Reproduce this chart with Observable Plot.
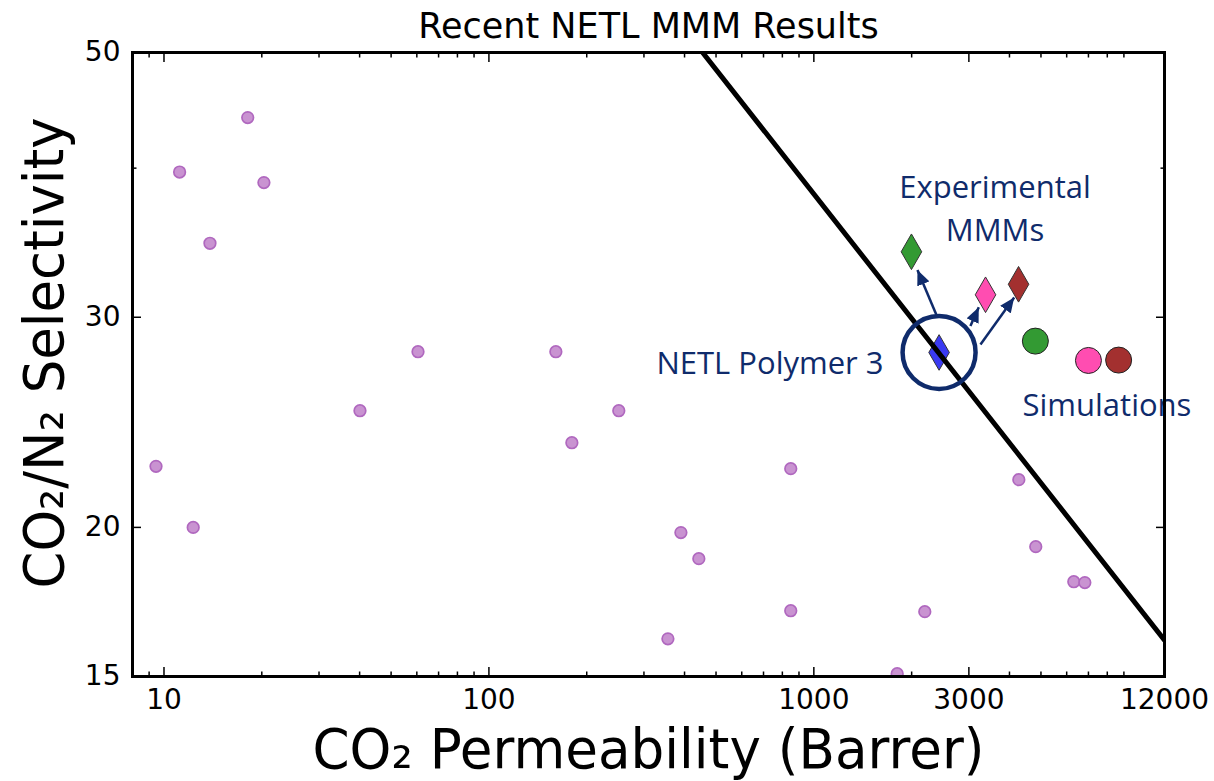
<!DOCTYPE html>
<html>
<head>
<meta charset="utf-8">
<script src="https://cdn.jsdelivr.net/npm/d3@7"></script>
<script src="https://cdn.jsdelivr.net/npm/@observablehq/plot@0.6"></script>
<style>
  body { margin: 0; background: #fff; }
  svg { display: block; }
</style>
</head>
<body>
<div id="chart"></div>
<script>
// Literature polymers: CO2 permeability (Barrer) and CO2/N2 selectivity
const polymerPerm = [9.45, 11.17, 12.3, 13.85, 18.1, 20.3, 40.1, 60.5, 160.7, 180, 251, 355.5, 389.8, 442.6, 849, 849, 1805, 2195, 4274, 4819, 6310, 6823];
const polymerSel  = [22.5, 39.7, 20.0, 34.6, 44.1, 38.9, 25.05, 28.07, 28.07, 23.55, 25.05, 16.13, 19.8, 18.83, 22.4, 17.03, 15.08, 17.0, 21.93, 19.27, 18.01, 17.98];

// Upper bound line
const boundPerm = [454.6, 12000];
const boundSel  = [50, 16.09];

// NETL Polymer 3 (base polymer)
const basePerm = [2429];
const baseSel  = [28.03];

// Experimental mixed-matrix membranes
const mmmPerm   = [1997, 3376, 4266];
const mmmSel    = [34.04, 31.33, 31.97];
const mmmColors = ["#339a33", "#ff4db1", "#a3302f"];

// Simulated mixed-matrix membranes
const simPerm   = [4806, 7000, 8670];
const simSel    = [28.65, 27.6, 27.62];
const simColors = ["#339a33", "#ff4db1", "#a3302f"];

// Arrows from the base polymer to each membrane
const arrowFromPerm = [2388, 3033, 3257];
const arrowFromSel  = [30.1, 29.5, 28.46];
const arrowToPerm   = [2084, 3218, 4136];
const arrowToSel    = [32.86, 30.58, 31.17];

// Annotations
const noteText   = ["Experimental\nMMMs", "NETL Polymer 3", "Simulations"];
const notePerm   = [3610, 1639, 4387];
const noteSel    = [37.19, 27.62, 25.47];
const noteAnchor = ["middle", "end", "start"];

// Ticks
const xTickLabels = [10, 100, 1000, 3000, 12000];
const xMinorTicks = [9, 20, 30, 40, 50, 60, 70, 80, 90, 200, 300, 400, 500, 600, 700, 800, 900, 2000, 4000, 5000, 6000, 7000, 8000, 9000];
const yTickLabels = [15, 20, 30, 50];
const yMinorTicks = [40];

const titleText = "Recent NETL MMM Results";
const xLabel = "CO₂ Permeability (Barrer)";
const yLabel = "CO₂/N₂ Selectivity";

const navy = "#0f2b6b";

const polymers = polymerPerm.map((p, i) => ({p, s: polymerSel[i]}));
const bound = boundPerm.map((p, i) => ({p, s: boundSel[i]}));
const base = basePerm.map((p, i) => ({p, s: baseSel[i]}));
const mmm = mmmPerm.map((p, i) => ({p, s: mmmSel[i], c: mmmColors[i]}));
const sims = simPerm.map((p, i) => ({p, s: simSel[i], c: simColors[i]}));
const arrows = arrowFromPerm.map((p, i) => ({p1: p, s1: arrowFromSel[i], p2: arrowToPerm[i], s2: arrowToSel[i]}));
const notes = noteText.map((t, i) => ({t, p: notePerm[i], s: noteSel[i], a: noteAnchor[i]}));

// filled triangular arrowhead, tip at the end of the link
const arrowHead = (color) => {
  const m = d3.create("svg:marker")
    .attr("viewBox", "-15 -6.5 15 13")
    .attr("markerWidth", 15)
    .attr("markerHeight", 13)
    .attr("markerUnits", "userSpaceOnUse")
    .attr("orient", "auto")
    .attr("fill", color)
    .attr("stroke", "none");
  m.append("path").attr("d", "M-15,-6.5L0,0L-15,6.5Z");
  return m.node();
};

const tickStyle = {label: null, fill: "none", strokeWidth: 1.5, stroke: "black"};

// one text mark per horizontal alignment
const noteMarks = ["middle", "end", "start"].map((anchor) =>
  Plot.text(notes.filter((d) => d.a === anchor), {
    x: "p", y: "s", text: "t", textAnchor: anchor, lineAnchor: "middle",
    fill: navy, fontSize: 31, fontFamily: "Open Sans", lineHeight: 1.387
  })
);

const svg = Plot.plot({
  width: 1214,
  height: 781,
  marginLeft: 132,
  marginRight: 50,
  marginTop: 52,
  marginBottom: 105,
  style: {fontFamily: "DejaVu Sans", background: "white", color: "black"},
  x: {type: "log", domain: [8, 12000]},
  y: {type: "log", domain: [15, 50]},
  marks: [
    // literature polymers
    Plot.dot(polymers, {x: "p", y: "s", r: 5.8, fill: "#c993d1", stroke: "#b068bf", strokeWidth: 1.7, clip: true}),
    // base polymer and MMMs
    Plot.dot(base, {x: "p", y: "s", symbol: "diamond", r: 10.8, fill: "#3a3af2", stroke: "#333", strokeWidth: 1}),
    Plot.dot(mmm, {x: "p", y: "s", symbol: "diamond", r: 10.8, fill: "c", stroke: "#333", strokeWidth: 1}),
    // simulations
    Plot.dot(sims, {x: "p", y: "s", r: 13, fill: "c", stroke: "#222", strokeWidth: 1}),
    // upper bound
    Plot.line(bound, {x: "p", y: "s", stroke: "black", strokeWidth: 5, clip: true}),
    // highlight ring around the base polymer
    Plot.dot(base, {x: "p", y: "s", r: 36.5, fill: "none", stroke: navy, strokeWidth: 4.5}),
    // arrows
    Plot.link(arrows, {x1: "p1", y1: "s1", x2: "p2", y2: "s2", stroke: navy, strokeWidth: 2.5, markerEnd: arrowHead}),
    // annotations
    ...noteMarks,
    // inward ticks on all four sides
    Plot.axisX(xMinorTicks, {anchor: "bottom", tickSize: -4.5, ...tickStyle}),
    Plot.axisX(xMinorTicks, {anchor: "top", tickSize: -4.5, ...tickStyle}),
    Plot.axisX(xTickLabels, {anchor: "bottom", tickSize: -9, ...tickStyle}),
    Plot.axisX(xTickLabels, {anchor: "top", tickSize: -9, ...tickStyle}),
    Plot.axisY(yMinorTicks, {anchor: "left", tickSize: -4.5, ...tickStyle}),
    Plot.axisY(yMinorTicks, {anchor: "right", tickSize: -4.5, ...tickStyle}),
    Plot.axisY(yTickLabels, {anchor: "left", tickSize: -9, ...tickStyle}),
    Plot.axisY(yTickLabels, {anchor: "right", tickSize: -9, ...tickStyle}),
    // tick labels
    Plot.axisX(xTickLabels, {anchor: "bottom", tickSize: 0, tickPadding: 13, fontSize: 28, label: null, tickFormat: (d) => `${d}`}),
    Plot.axisY(yTickLabels, {anchor: "left", tickSize: 0, tickPadding: 12, fontSize: 28, label: null, tickFormat: (d) => `${d}`}),
    // title and axis labels
    Plot.text([titleText], {text: (d) => d, frameAnchor: "top", textAnchor: "middle", lineAnchor: "middle", dy: -26, fontSize: 35}),
    Plot.text([xLabel], {text: (d) => d, frameAnchor: "bottom", textAnchor: "middle", lineAnchor: "middle", dy: 74, fontSize: 56}),
    Plot.text([yLabel], {text: (d) => d, frameAnchor: "left", textAnchor: "middle", lineAnchor: "middle", rotate: -90, dx: -87, dy: -11.5, fontSize: 56}),
    Plot.frame({stroke: "black", strokeWidth: 3})
  ]
});

// condensed axis labels
for (const t of svg.querySelectorAll("text")) {
  if (t.textContent === xLabel) {
    t.setAttribute("textLength", 672);
    t.setAttribute("lengthAdjust", "spacingAndGlyphs");
  } else if (t.textContent === yLabel) {
    t.setAttribute("textLength", 471);
    t.setAttribute("lengthAdjust", "spacingAndGlyphs");
  }
}

document.getElementById("chart").appendChild(svg);
</script>
</body>
</html>
